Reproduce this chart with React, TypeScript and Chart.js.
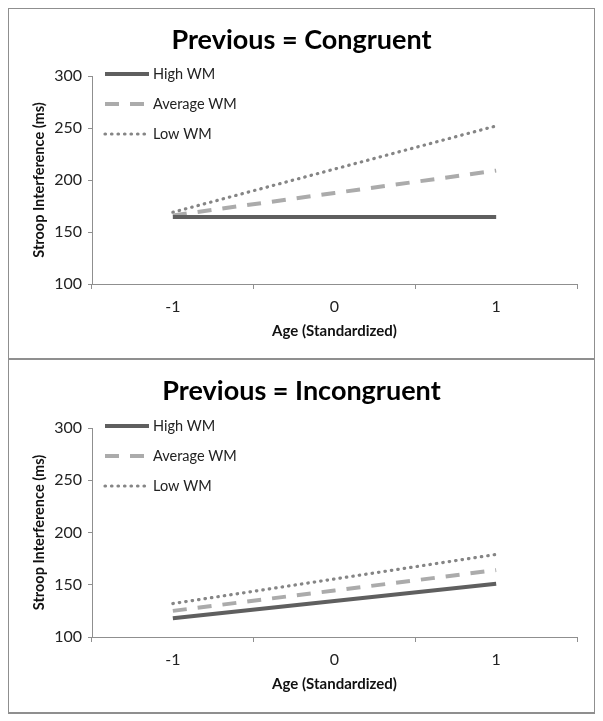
import React, { useEffect, useRef } from "react";
import { Chart, registerables } from "chart.js";

Chart.register(...registerables);

const ageLabels = ["-1", "0", "1"];
const seriesNames = ["High WM", "Average WM", "Low WM"];

const congruentHigh = [164.5, 164.5, 164.5];
const congruentAverage = [166, 187.5, 209];
const congruentLow = [169, 210.5, 252];

const incongruentHigh = [118, 134.5, 151];
const incongruentAverage = [125, 144.5, 164];
const incongruentLow = [132, 155.5, 179];

const yTickMin = 100;
const yTickMax = 300;
const yTickStep = 50;

const FONT = "Lato, 'Open Sans', sans-serif";
const LINE = "#8f8f8f";
const W = 589;

const legendPlugin = {
  id: "insideLegend",
  afterDraw(chart: any) {
    const { ctx, chartArea } = chart;
    ctx.save();
    chart.data.datasets.forEach((ds: any, i: number) => {
      const y = chartArea.top - 2 + i * 30;
      const x0 = chartArea.left + 13;
      const x1 = chartArea.left + 57;
      ctx.beginPath();
      ctx.strokeStyle = ds.borderColor;
      ctx.lineWidth = ds.borderWidth;
      ctx.lineCap = ds.borderCapStyle || "butt";
      ctx.setLineDash(ds.borderDash || []);
      ctx.moveTo(x0, y);
      ctx.lineTo(x1, y);
      ctx.stroke();
      ctx.setLineDash([]);
      ctx.fillStyle = "#222";
      ctx.font = "14.5px " + FONT;
      ctx.textBaseline = "middle";
      ctx.textAlign = "left";
      ctx.fillText(ds.label, chartArea.left + 61, y);
    });
    ctx.restore();
  },
};

const framePlugin = {
  id: "panelFrame",
  afterDraw(chart: any, _args: any, opts: any) {
    const { ctx, width, height } = chart;
    ctx.save();
    ctx.strokeStyle = LINE;
    ctx.lineWidth = 2;
    ctx.beginPath();
    ctx.moveTo(1, 0);
    ctx.lineTo(1, height);
    ctx.moveTo(width - 1, 0);
    ctx.lineTo(width - 1, height);
    if (opts.top) {
      ctx.moveTo(0, 1);
      ctx.lineTo(width, 1);
    }
    ctx.moveTo(0, height - 1);
    ctx.lineTo(width, height - 1);
    ctx.stroke();
    ctx.restore();
  },
};

function makeDatasets(high: number[], avg: number[], low: number[]) {
  return [
    {
      label: seriesNames[0],
      data: high,
      borderColor: "#5f5f5f",
      borderWidth: 4,
      borderCapStyle: "butt",
      pointRadius: 0,
      fill: false,
      tension: 0,
    },
    {
      label: seriesNames[1],
      data: avg,
      borderColor: "#ababab",
      borderWidth: 4,
      borderDash: [14, 11],
      borderCapStyle: "butt",
      pointRadius: 0,
      fill: false,
      tension: 0,
    },
    {
      label: seriesNames[2],
      data: low,
      borderColor: "#858585",
      borderWidth: 3.2,
      borderDash: [0.5, 6],
      borderCapStyle: "round",
      pointRadius: 0,
      fill: false,
      tension: 0,
    },
  ];
}

function Panel({ title, high, avg, low, height, titleCenter, first }: any) {
  const ref = useRef<HTMLCanvasElement>(null);
  useEffect(() => {
    if (!ref.current) return;
    const areaTop = first ? 69 : 68;
    const areaBottom = 277;
    const titleSize = 27;
    const titleTop = titleCenter - titleSize / 2;
    const chart = new Chart(ref.current, {
      type: "line",
      data: { labels: ageLabels, datasets: makeDatasets(high, avg, low) as any },
      options: {
        responsive: false,
        animation: false,
        layout: { padding: 0 },
        plugins: {
          legend: { display: false },
          tooltip: { enabled: false },
          panelFrame: { top: first },
          title: {
            display: true,
            text: title,
            color: "#000",
            font: { family: FONT, size: titleSize, weight: "bold", lineHeight: 1 },
            padding: { top: titleTop, bottom: areaTop - titleTop - titleSize },
          },
        },
        scales: {
          x: {
            type: "category",
            offset: true,
            grid: {
              offset: true,
              drawOnChartArea: false,
              drawTicks: true,
              tickLength: 5,
              color: LINE,
              lineWidth: 1,
            },
            border: { display: true, color: LINE, width: 1 },
            ticks: {
              color: "#222",
              font: { family: FONT, size: 16 },
              padding: 8,
            },
            title: {
              display: true,
              text: "Age (Standardized)",
              color: "#111",
              font: { family: FONT, size: 15, weight: "bold", lineHeight: 1.2 },
              padding: { top: 0, bottom: height - 324 - 9 },
            },
            afterFit(scale: any) {
              scale.height = height - areaBottom;
            },
          },
          y: {
            type: "linear",
            position: "left",
            min: yTickMin,
            max: yTickMax,
            ticks: {
              stepSize: yTickStep,
              color: "#222",
              font: { family: FONT, size: 16 },
              padding: 6,
            },
            grid: {
              drawOnChartArea: false,
              drawTicks: true,
              tickLength: 4,
              color: LINE,
            },
            border: { display: true, color: LINE, width: 1 },
            title: {
              display: true,
              text: "Stroop Interference (ms)",
              color: "#111",
              font: { family: FONT, size: 14.5, weight: "bold", lineHeight: 1.2 },
              padding: { top: 24, bottom: 0 },
            },
            afterFit(scale: any) {
              scale.width = 85;
            },
          },
          yRightSpace: {
            type: "linear",
            position: "right",
            min: yTickMin,
            max: yTickMax,
            display: true,
            ticks: { display: false },
            grid: { display: false, drawTicks: false },
            border: { display: false },
            afterFit(scale: any) {
              scale.width = W - 570;
            },
          },
        },
      } as any,
      plugins: [legendPlugin, framePlugin],
    });
    return () => chart.destroy();
  }, []);
  return (
    <canvas ref={ref} width={W} height={height} style={{ display: "block" }} />
  );
}

export default function App() {
  return (
    <div style={{ marginLeft: -1, marginTop: -1, width: W, background: "#fff" }}>
      <Panel
        title="Previous = Congruent"
        high={congruentHigh}
        avg={congruentAverage}
        low={congruentLow}
        height={353}
        titleCenter={33}
        first={true}
      />
      <Panel
        title="Previous = Incongruent"
        high={incongruentHigh}
        avg={incongruentAverage}
        low={incongruentLow}
        height={354}
        titleCenter={31}
        first={false}
      />
    </div>
  );
}
